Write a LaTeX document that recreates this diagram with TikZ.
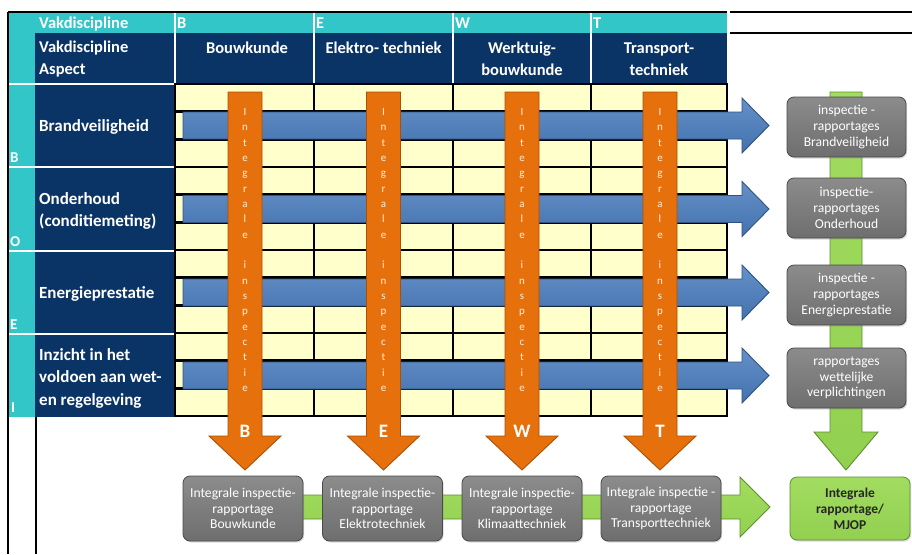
\documentclass[tikz,border=0pt]{standalone}
\usepackage{fontspec}
\setmainfont{Carlito}
\usetikzlibrary{shadows}
\definecolor{cyanH}{HTML}{33C6C8}
\definecolor{navy}{HTML}{0B3466}
\definecolor{gridY}{HTML}{FFFFCC}
\definecolor{blueA}{HTML}{4F81BD}
\definecolor{blueT}{HTML}{6690C8}
\definecolor{blueB}{HTML}{4272AE}
\definecolor{blueD}{HTML}{2F5382}
\definecolor{orA}{HTML}{E6700C}
\definecolor{orD}{HTML}{A9500A}
\definecolor{orTxt}{HTML}{FFF0E2}
\definecolor{grayT}{HTML}{8C8C8C}
\definecolor{grayBt}{HTML}{6E6E6E}
\definecolor{grayD}{HTML}{4A4A4A}
\definecolor{greenA}{HTML}{92D050}
\definecolor{greenT}{HTML}{A2DC60}
\definecolor{greenD}{HTML}{5E8F2E}
\begin{document}
\begin{tikzpicture}[x=1pt,y=-1pt,
  hdr/.style={text=white, font=\fontsize{16.5}{22}\selectfont\bfseries, inner sep=0pt, align=center},
  rowlbl/.style={text=white, font=\fontsize{17}{22.5}\selectfont\bfseries, align=left, anchor=west, inner sep=0pt},
  rowlet/.style={text=white, font=\fontsize{15}{15}\selectfont\bfseries, anchor=base west, inner sep=0pt},
  bluearrow/.style={top color=blueT, bottom color=blueB, draw=blueD, line width=0.9pt},
  orarrow/.style={fill=orA, draw=orD, line width=0.9pt},
  grarrow/.style={top color=greenT, bottom color=greenA, draw=greenD, line width=0.9pt},
  vlet/.style={anchor=base, text=orTxt, font=\fontsize{11}{11}\selectfont, inner sep=0pt},
  biglet/.style={anchor=base, text=white, font=\fontsize{19}{19}\selectfont\bfseries, inner sep=0pt},
  graybox/.style={rounded corners=7pt, top color=grayT, bottom color=grayBt, draw=grayD, line width=0.8pt,
    text=white, font=\fontsize{13.6}{15.8}\selectfont, align=center, inner sep=1pt,
    drop shadow={opacity=0.3, shadow xshift=1.2pt, shadow yshift=-1.5pt}},
  rbox/.style={graybox, minimum width=119pt, minimum height=60pt},
  bbox/.style={graybox, minimum width=120pt, minimum height=65pt},
  finbox/.style={rounded corners=7pt, top color=greenT, bottom color=greenA, draw=greenD, line width=0.8pt,
    text=black!85, font=\fontsize{13.5}{16}\selectfont\bfseries, align=center, inner sep=1pt,
    minimum width=120pt, minimum height=63pt,
    drop shadow={opacity=0.3, shadow xshift=1.2pt, shadow yshift=-1.5pt}},
  sepw/.style={white, line width=2.5pt},
  gline/.style={black, line width=2.6pt},
  bline/.style={black, line width=1.6pt}
]
\useasboundingbox (0,0) rectangle (912,554);
\fill[white] (0,0) rectangle (912,554);
% header backgrounds
\fill[cyanH] (8,12) rectangle (727,33);
\fill[cyanH] (8,12) rectangle (35,417);
\fill[navy] (35,33) rectangle (727,84);
\fill[navy] (35,84) rectangle (175,417);
% white separators
\foreach \xx in {175,314,453,591} \draw[sepw] (\xx,12) -- (\xx,84);
\foreach \yy in {84,167,251,334} \draw[sepw] (8,\yy) -- (175,\yy);
% black frame lines
\draw[bline] (8,12) -- (727,12);
\draw[bline] (730,12) -- (912,12);
\draw[bline] (730,33) -- (912,33);
\draw[bline] (8,12) -- (8,554);
\draw[bline] (36,417) -- (36,554);
% header texts
\node[hdr, anchor=base west] (h0) at (39,28) {Vakdiscipline};
\node[hdr, anchor=base west] (hB) at (177,28) {B};
\node[hdr, anchor=base west] (hE) at (316,28) {E};
\node[hdr, anchor=base west] (hW) at (455,28) {W};
\node[hdr, anchor=base west] (hT) at (593,28) {T};
\node[hdr, align=left, anchor=west] (a0) at (39,59) {Vakdiscipline\\Aspect};
\node[hdr, anchor=base] (c1) at (247,53) {Bouwkunde};
\node[hdr, anchor=base] (c2) at (383.5,53) {Elektro- techniek};
\node[hdr] (c3) at (522,59) {Werktuig-\\bouwkunde};
\node[hdr] (c4) at (659,59) {Transport-\\techniek};
% row labels
\node[rowlbl] (r1l) at (39,127) {Brandveiligheid};
\node[rowlbl] (r2l) at (39,211) {Onderhoud\\(conditiemeting)};
\node[rowlbl] (r3l) at (39,294) {Energieprestatie};
\node[rowlbl] (r4l) at (39,378) {Inzicht in het\\voldoen aan wet-\\en regelgeving};
\node[rowlet] (lB) at (10,162) {B};
\node[rowlet] (lO) at (10,246) {O};
\node[rowlet] (lE) at (10,329) {E};
\node[rowlet] (lI) at (11,412) {I};
% grid
\fill[gridY] (175,84) rectangle (727,417);
\foreach \k in {0,...,12} \draw[gline] (173.7,84+27.667*\k) -- (728.3,84+27.667*\k);
\foreach \xx in {175,314,453,591,727} \draw[gline] (\xx,84) -- (\xx,417);
% blue arrows
\foreach \yc in {125.5,209,292.5,375.5}
  \draw[bluearrow] (183,\yc-13.5) -- (742,\yc-13.5) -- (742,\yc-27.5) -- (769,\yc) -- (742,\yc+27.5) -- (742,\yc+13.5) -- (183,\yc+13.5) -- cycle;
% orange arrows
\foreach \xc/\L [count=\i] in {245/B,383.5/E,522/W,660/T} {
  \draw[orarrow] (\xc-17,92) -- (\xc+17,92) -- (\xc+17,436) -- (\xc+36,436) -- (\xc,470) -- (\xc-36,436) -- (\xc-17,436) -- cycle;
  \foreach \ch [count=\k from 0] in {I,n,t,e,g,r,a,l,e,{},i,n,s,p,e,c,t,i,e}
    \node[vlet] (v\i-\k) at (\xc,115.5+15.33*\k) {\ch};
  \node[biglet] (o\i) at (\xc,437) {\L};
}
% green vertical arrow
\draw[grarrow] (830,92) -- (862,92) -- (862,432) -- (878,432) -- (846,470) -- (814,432) -- (830,432) -- cycle;
% green horizontal arrow
\draw[grarrow] (300,495) -- (740,495) -- (740,477) -- (770,507) -- (740,537) -- (740,519) -- (300,519) -- cycle;
% right boxes
\node[rbox] (rb1) at (846.5,127) {inspectie -\\rapportages\\Brandveiligheid};
\node[rbox] (rb2) at (846.5,208) {inspectie-\\rapportages\\Onderhoud};
\node[rbox] (rb3) at (846.5,295) {inspectie -\\rapportages\\Energieprestatie};
\node[rbox] (rb4) at (846.5,378) {rapportages\\wettelijke\\verplichtingen};
% bottom boxes
\node[bbox] (bb1) at (243,508.5) {Integrale inspectie-\\rapportage\\Bouwkunde};
\node[bbox] (bb2) at (382.5,508.5) {Integrale inspectie-\\rapportage\\Elektrotechniek};
\node[bbox] (bb3) at (522,508.5) {Integrale inspectie-\\rapportage\\Klimaattechniek};
\node[bbox] (bb4) at (661,508.5) {Integrale inspectie -\\rapportage\\Transporttechniek};
\node[finbox] (fin) at (850,508.5) {Integrale\\rapportage/\\MJOP};
\end{tikzpicture}
\end{document}
